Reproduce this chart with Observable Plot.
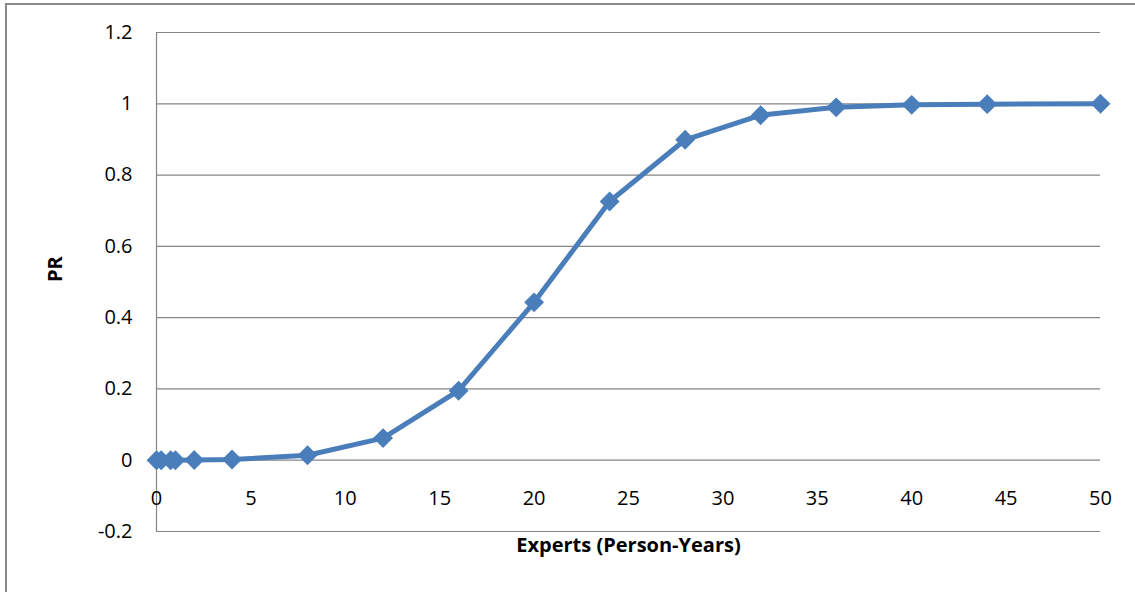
<!DOCTYPE html>
<html>
<head>
<meta charset="utf-8">
<script src="https://cdn.jsdelivr.net/npm/d3@7"></script>
<script src="https://cdn.jsdelivr.net/npm/@observablehq/plot@0.6"></script>
<style>
  html, body { margin: 0; padding: 0; background: #fff; }
  #wrap { position: relative; width: 1135px; height: 592px; overflow: hidden; }
  #frame {
    position: absolute; left: 5px; top: 3px; right: -10px; bottom: -10px;
    border-left: 2.5px solid #8a8a8a; border-top: 2px solid #8a8a8a;
    pointer-events: none;
  }
  #chart svg { display: block; }
</style>
</head>
<body>
<div id="wrap">
  <div id="chart"></div>
  <div id="frame"></div>
</div>
<script>
// Experts (person-years) against PR
const experts = [0, 0.25, 0.75, 1, 2, 4, 8, 12, 16, 20, 24, 28, 32, 36, 40, 44, 50];
const pr = [0, 0, 0, 0, 0.0005, 0.002, 0.014, 0.062, 0.195, 0.443, 0.726, 0.899, 0.968, 0.99, 0.997, 0.999, 1.0];

const xTicks = [0, 5, 10, 15, 20, 25, 30, 35, 40, 45, 50];
const yTicks = [-0.2, 0, 0.2, 0.4, 0.6, 0.8, 1, 1.2];
const xTitle = "Experts (Person-Years)";
const yTitle = "PR";

const points = experts.map((x, i) => ({x, y: pr[i]}));
const blue = "#4a7ebb";
const font = "'Open Sans', 'DejaVu Sans', sans-serif";

const chart = Plot.plot({
  width: 1135,
  height: 592,
  marginLeft: 156,
  marginRight: 35,
  marginTop: 32,
  marginBottom: 61,
  style: {fontFamily: font, fontSize: "20px", color: "#000", background: "#fff"},
  x: {domain: [0, 50]},
  y: {domain: [-0.2, 1.2]},
  marks: [
    Plot.gridY(yTicks, {stroke: "#868686", strokeOpacity: 1, strokeWidth: 1.2}),
    Plot.ruleX([0], {stroke: "#868686", strokeWidth: 1.2}),
    Plot.axisY(yTicks, {
      tickSize: 0, tickPadding: 24, fontSize: 20, fill: "#000",
      tickFormat: d => String(+d.toFixed(1)), label: null
    }),
    Plot.axisX(xTicks, {
      anchor: "bottom", tickSize: 0, tickPadding: 0, dy: -41, fontSize: 20, fill: "#000",
      tickFormat: d => String(d), label: null
    }),
    Plot.text([xTitle], {frameAnchor: "bottom", dy: 20, fontWeight: "bold", fontSize: 20, fill: "#000"}),
    Plot.text([yTitle], {frameAnchor: "left", dx: -101, rotate: -90, fontWeight: "bold", fontSize: 20, fill: "#000"}),
    Plot.line(points, {x: "x", y: "y", stroke: blue, strokeWidth: 5}),
    Plot.dot(points, {x: "x", y: "y", symbol: "diamond2", r: 8, fill: blue, stroke: blue, strokeWidth: 1.5})
  ]
});

document.getElementById("chart").appendChild(chart);
</script>
</body>
</html>
